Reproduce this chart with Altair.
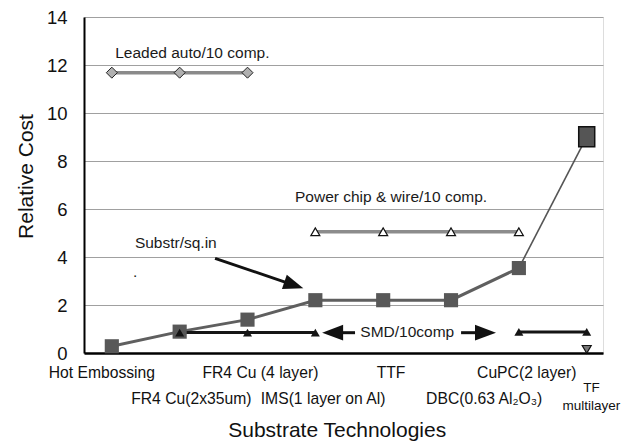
import altair as alt
import pandas as pd

# ---------------- data ----------------
categories = ["Hot Embossing", "FR4 Cu(2x35um)", "FR4 Cu (4 layer)", "IMS(1 layer on Al)",
              "TTF", "DBC(0.63 Al\u2082O\u2083)", "CuPC(2 layer)", "TF\nmultilayer"]
positions = [1, 2, 3, 4, 5, 6, 7, 8]
substr_cost = [0.28, 0.89, 1.39, 2.2, 2.2, 2.2, 3.54, 9.01]

leaded_pos = [1, 2, 3]
leaded_cost = [11.68, 11.68, 11.68]

power_pos = [4, 5, 6, 7]
power_cost = [5.05, 5.05, 5.05, 5.05]

smd_pos = [2, 3, 4]
smd_cost = [0.85, 0.85, 0.85]
smd2_pos = [7, 8]
smd2_cost = [0.88, 0.88]
tf_pos = [8]
tf_cost = [0.15]

y_ticks = [0, 2, 4, 6, 8, 10, 12, 14]

# annotation texts (data coordinates)
ann_text = ["Leaded auto/10 comp.", "Power chip & wire/10 comp.", "Substr/sq.in", "."]
ann_x = [1.05, 3.70, 1.34, 1.311]
ann_y = [12.28, 6.30, 4.39, 3.17]

smd_label = ["SMD/10comp"]
smd_label_x = [5.355]
smd_label_y = [0.654]

# arrows: shaft start -> head centre, head angle
arrow_x = [2.522, 4.585, 6.148]
arrow_y = [3.946, 0.846, 0.846]
arrow_x2 = [3.683, 4.255, 6.508]
arrow_y2 = [2.83, 0.846, 0.846]
arrow_angle = [18.8, 180, 0]
arrow_size = [400, 441, 441]

# layout of category labels (two staggered rows)
label_x = [0.853, 2.172, 3.19, 4.114, 5.116, 6.489, 7.116, 8.07]
label_row_y = [361.3, 387.3, 361.3, 387.3, 361.3, 387.3, 361.3, 374.7]

FONT = "Liberation Sans"

main = pd.DataFrame({"cat": categories, "pos": positions, "cost": substr_cost})
leaded = pd.DataFrame({"pos": leaded_pos, "cost": leaded_cost})
power = pd.DataFrame({"pos": power_pos, "cost": power_cost})
smd = pd.DataFrame({"pos": smd_pos, "cost": smd_cost})
smd2 = pd.DataFrame({"pos": smd2_pos, "cost": smd2_cost})
tf = pd.DataFrame({"pos": tf_pos, "cost": tf_cost})
ann = pd.DataFrame({"t": ann_text, "x": ann_x, "y": ann_y})
smdl = pd.DataFrame({"t": smd_label, "x": smd_label_x, "y": smd_label_y})
arrows = pd.DataFrame({"x": arrow_x, "y": arrow_y, "x2": arrow_x2, "y2": arrow_y2,
                       "angle": arrow_angle, "size": arrow_size})
labels = pd.DataFrame({"t": categories, "x": label_x, "ly": label_row_y})

xscale = alt.Scale(domain=[0.59, 8.24], nice=False, zero=False)
yscale = alt.Scale(domain=[0, 14], nice=False)

X = alt.X("pos:Q", scale=xscale,
          axis=alt.Axis(title="Substrate Technologies", labels=False, ticks=False, grid=False,
                        domainColor="black", domainWidth=2.5, titleFontSize=21,
                        titleFontWeight="normal", titleX=252.7, titleY=83.7,
                        titleAlign="center", titleBaseline="alphabetic", titleColor="#111",
                        titleFont=FONT))
Y = alt.Y("cost:Q", scale=yscale,
          axis=alt.Axis(title="Relative Cost", values=y_ticks, format="d", ticks=False,
                        labelPadding=17, labelFontSize=18.5, labelColor="#111", labelFont=FONT,
                        grid=True, gridColor="#a0a0a0", gridWidth=1,
                        domainColor="black", domainWidth=2,
                        titleFontSize=21, titleFontWeight="normal", titleX=-52, titleY=159,
                        titleAngle=270, titleAlign="center", titleBaseline="alphabetic",
                        titleColor="#111", titleFont=FONT))

Xp = alt.X("pos:Q", scale=xscale)
Yp = alt.Y("cost:Q", scale=yscale)

base_main = alt.Chart(main)
line1 = base_main.mark_line(color="#5f5f5f", strokeWidth=3).encode(x=X, y=Y).transform_filter("datum.pos <= 7")
line2 = base_main.mark_line(color="#555", strokeWidth=1.6).encode(x=Xp, y=Yp).transform_filter("datum.pos >= 7")
squares = base_main.mark_square(size=200, color="#585858", opacity=1).encode(x=Xp, y=Yp).transform_filter("datum.pos <= 7")
last_sq = base_main.mark_point(shape="M-0.8,-1H0.8V1H-0.8Z", size=400, filled=True,
                               fill="#555", stroke="#111", strokeWidth=1.5, opacity=1).encode(
    x=Xp, y=Yp).transform_filter("datum.pos == 8")

leaded_line = alt.Chart(leaded).mark_line(color="#8a8a8a", strokeWidth=3.5).encode(x=Xp, y=Yp)
leaded_pts = alt.Chart(leaded).mark_point(shape="diamond", size=121, filled=True, fill="#b0b0b0",
                                          stroke="#222", strokeWidth=1, opacity=1).encode(x=Xp, y=Yp)

power_line = alt.Chart(power).mark_line(color="#8c8c8c", strokeWidth=3.5).encode(x=Xp, y=Yp)
power_pts = alt.Chart(power).mark_point(shape="triangle-up", size=81, filled=True, fill="white",
                                        stroke="#111", strokeWidth=1.2, opacity=1).encode(x=Xp, y=Yp)

smd_line = alt.Chart(smd).mark_line(color="#151515", strokeWidth=3).encode(x=Xp, y=Yp)
smd_pts = alt.Chart(smd).mark_point(shape="triangle-up", size=81, filled=True, fill="#151515",
                                    opacity=1).encode(x=Xp, y=Yp)
smd2_line = alt.Chart(smd2).mark_line(color="#151515", strokeWidth=3).encode(x=Xp, y=Yp)
smd2_pts = alt.Chart(smd2).mark_point(shape="triangle-up", size=81, filled=True, fill="#151515",
                                      opacity=1).encode(x=Xp, y=Yp)
tf_pt = alt.Chart(tf).mark_point(shape="triangle-down", size=81, filled=True, fill="#777",
                                 stroke="#111", strokeWidth=1.2, opacity=1).encode(x=Xp, y=Yp)

ann_txt = alt.Chart(ann).mark_text(align="left", baseline="alphabetic", fontSize=15.5,
                                   font=FONT, color="#1a1a1a").encode(
    x=alt.X("x:Q", scale=xscale), y=alt.Y("y:Q", scale=yscale), text="t:N")
smd_txt = alt.Chart(smdl).mark_text(align="center", baseline="alphabetic", fontSize=15.5,
                                    font=FONT, color="#1a1a1a").encode(
    x=alt.X("x:Q", scale=xscale), y=alt.Y("y:Q", scale=yscale), text="t:N")

shafts = alt.Chart(arrows).mark_rule(color="#111", strokeWidth=3).encode(
    x=alt.X("x:Q", scale=xscale), y=alt.Y("y:Q", scale=yscale), x2="x2:Q", y2="y2:Q")
heads = alt.Chart(arrows).mark_point(shape="M1,0L-1,-0.75L-1,0.75Z", filled=True, fill="#111",
                                     opacity=1).encode(
    x=alt.X("x2:Q", scale=xscale), y=alt.Y("y2:Q", scale=yscale),
    angle=alt.Angle("angle:Q", scale=None), size=alt.Size("size:Q", scale=None, legend=None))

cat_labels = alt.Chart(labels).mark_text(align="center", baseline="alphabetic",
                                         font=FONT, color="#111", lineBreak="\n",
                                         lineHeight=18.3).encode(
    x=alt.X("x:Q", scale=xscale), y=alt.Y("ly:Q", scale=None), text="t:N",
    size=alt.condition("datum.x > 8", alt.value(13.5), alt.value(15.7)))

chart = alt.layer(
    line1, line2, leaded_line, power_line, smd_line, smd2_line,
    squares, last_sq, leaded_pts, power_pts, smd_pts, smd2_pts, tf_pt,
    shafts, heads, ann_txt, smd_txt, cat_labels
).properties(
    width=519, height=336,
    padding={"left": 76, "top": 9, "right": 22, "bottom": 88},
    autosize=alt.AutoSizeParams(type="none"),
).configure_view(stroke="#222", strokeWidth=1.5).configure(font=FONT)

chart.save("out.html", embed_options={"renderer": "svg", "actions": False})
